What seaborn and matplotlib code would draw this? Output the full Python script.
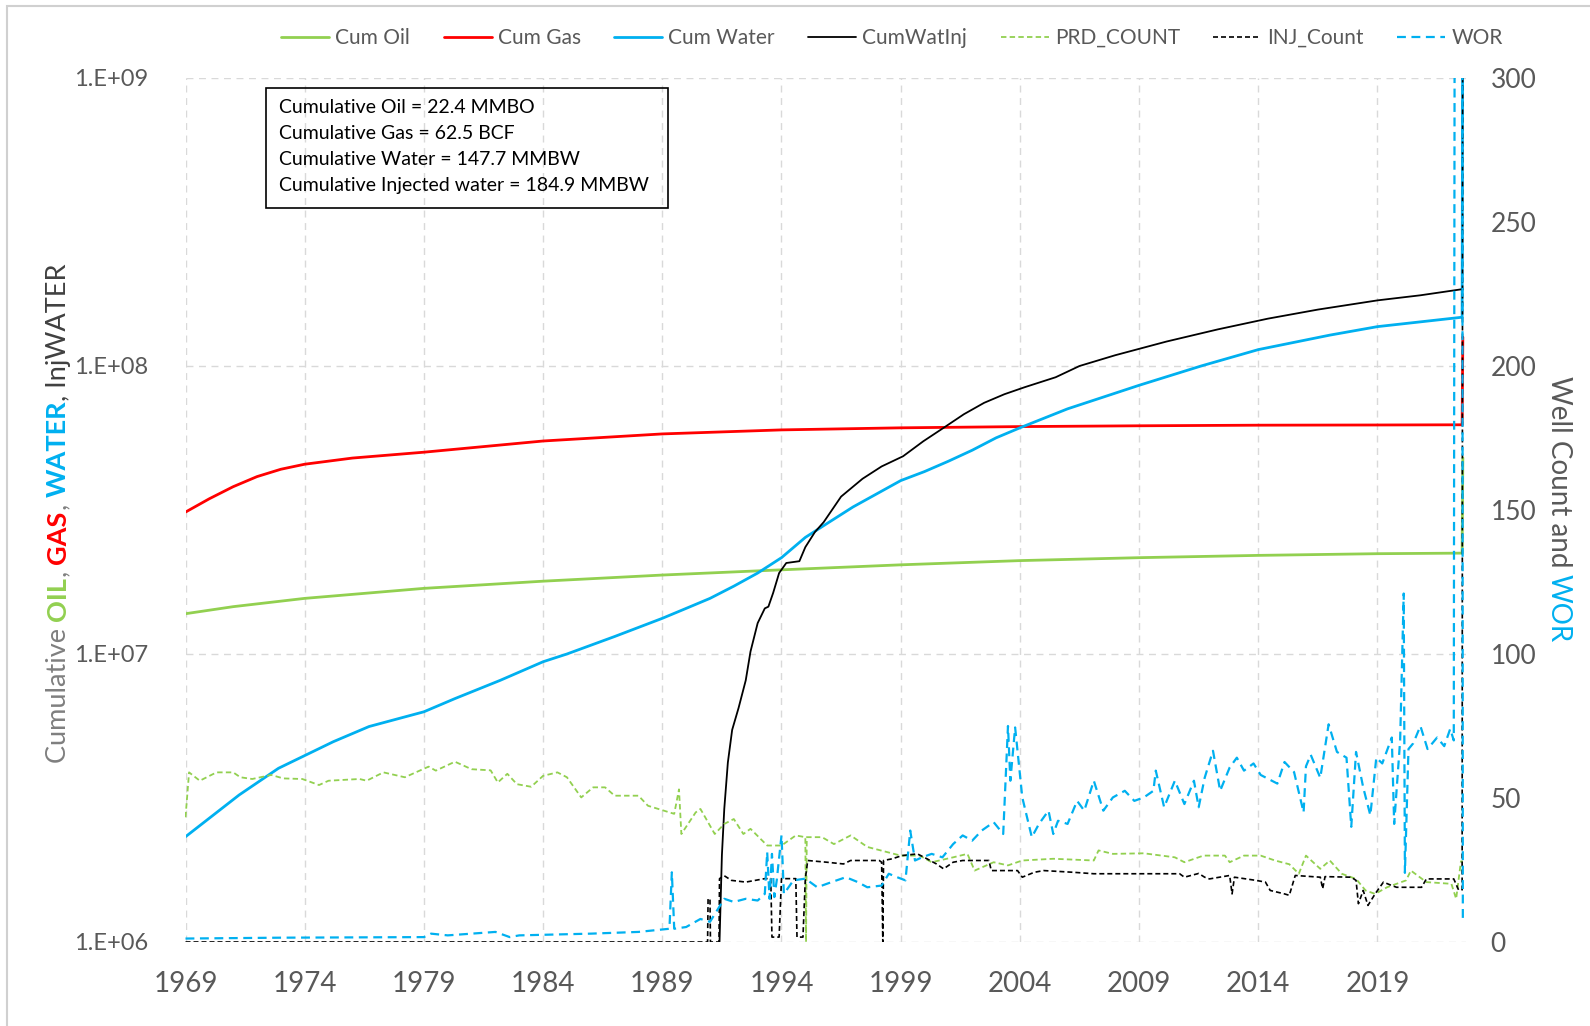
import matplotlib
matplotlib.use("Agg")
import matplotlib.pyplot as plt
from matplotlib.lines import Line2D
from matplotlib.patches import Rectangle
from matplotlib.ticker import FixedLocator, FuncFormatter, NullLocator
import numpy as np
import seaborn as sns

# ---- data ----
# cumulative volumes, left (log) axis
oil_years = [1969, 1971, 1974, 1979, 1984, 1989, 1994, 1999, 2004, 2009, 2014, 2019, 2022.55, 2022.58]
oil_vals = [13.8e6, 14.6e6, 15.6e6, 16.9e6, 17.9e6, 18.8e6, 19.6e6, 20.4e6, 21.1e6, 21.6e6,
            22.0e6, 22.3e6, 22.4e6, 48e6]

gas_years = [1969, 1970, 1971, 1972, 1973, 1974, 1976, 1979, 1984, 1989, 1994, 1999, 2004,
             2009, 2014, 2019, 2022.55, 2022.58]
gas_vals = [31.1e6, 34.6e6, 38.1e6, 41.3e6, 43.8e6, 45.6e6, 47.9e6, 50.2e6, 54.9e6, 58.1e6,
            60.0e6, 61.0e6, 61.6e6, 62.0e6, 62.3e6, 62.4e6, 62.5e6, 126e6]

water_years = [1969, 1971.25, 1972.9, 1975.2, 1976.7, 1979, 1980.3, 1982.2, 1984, 1985, 1987,
               1989, 1990, 1991, 1992, 1993, 1994, 1995, 1996, 1997, 1998, 1999, 2000, 2001,
               2002, 2003, 2004, 2006, 2009, 2011.6, 2014, 2017, 2019, 2022.55, 2022.58]
water_vals = [2.32e6, 3.24e6, 4.01e6, 4.96e6, 5.6e6, 6.3e6, 7.0e6, 8.1e6, 9.4e6, 10.0e6, 11.5e6,
              13.3e6, 14.4e6, 15.6e6, 17.2e6, 19.1e6, 21.6e6, 25.4e6, 28.7e6, 32.4e6, 36.0e6,
              40.0e6, 43.0e6, 46.7e6, 51.0e6, 56.3e6, 61.0e6, 71.0e6, 85.7e6, 100e6, 114e6,
              128e6, 137e6, 147.7e6, 3e9]

watinj_years = [1991.35, 1991.4, 1991.5, 1991.6, 1991.75, 1991.93, 1992.2, 1992.5, 1992.7,
                1993.0, 1993.3, 1993.45, 1993.65, 1993.9, 1994.2, 1994.75, 1995.0, 1995.4,
                1995.77, 1996.5, 1997.4, 1998.2, 1999.1, 1999.95, 2000.8, 2001.65, 2002.5,
                2003.35, 2004.2, 2005.5, 2006.5, 2008.0, 2010.15, 2012.3, 2014.4, 2016.5,
                2019.0, 2020.8, 2022.57]
watinj_vals = [1e3, 1.0e6, 2.0e6, 2.9e6, 4.2e6, 5.45e6, 6.5e6, 8.1e6, 10.2e6, 12.8e6, 14.4e6,
               14.6e6, 16.3e6, 19.1e6, 20.7e6, 21.0e6, 23.5e6, 26.5e6, 28.7e6, 35.2e6, 40.6e6,
               44.8e6, 48.6e6, 54.8e6, 61.0e6, 68.0e6, 74.5e6, 79.8e6, 84.4e6, 91.4e6, 100e6,
               109e6, 121.6e6, 134e6, 146e6, 157e6, 169e6, 176e6, 184.9e6]

# well counts and WOR, right axis
prd_years = [1969.0, 1969.15, 1969.6, 1970.3, 1971.0, 1971.3, 1971.8, 1972.6, 1973.1, 1973.9,
             1974.6, 1975.0, 1976.3, 1976.6, 1977.3, 1978.2, 1979.2, 1979.5, 1980.3, 1981.0,
             1981.8, 1982.1, 1982.5, 1982.9, 1983.5, 1984.0, 1984.6, 1985.0, 1985.6, 1986.1,
             1986.6, 1987.0, 1988.0, 1988.4, 1989.5, 1989.7, 1989.8, 1990.4, 1990.6, 1991.2,
             1991.6, 1992.0, 1992.4, 1992.7, 1993.4, 1994.0, 1994.6, 1995.0, 1995.03, 1995.06,
             1995.7, 1996.2, 1996.9, 1997.6, 1999.0, 1999.8, 2000.3, 2001.2, 2001.8, 2002.1,
             2002.9, 2003.5, 2004.1, 2005.4, 2007.1, 2007.3, 2007.9, 2009.2, 2010.5, 2010.9,
             2011.7, 2012.6, 2012.8, 2013.4, 2014.1, 2014.7, 2015.3, 2015.7, 2016.0, 2016.6,
             2017.0, 2017.5, 2018.1, 2018.5, 2018.9, 2019.4, 2020.2, 2020.4, 2021.05, 2022.1,
             2022.3, 2022.5, 2022.58]
prd_vals = [43.3, 58.9, 56.0, 58.9, 58.9, 57.2, 56.6, 58.0, 56.8, 56.6,
            54.5, 56.0, 56.6, 56.0, 58.9, 57.2, 60.9, 59.5, 62.6, 60.0,
            59.6, 55.4, 58.4, 54.8, 53.9, 57.7, 58.9, 57.2, 50.2, 53.7,
            53.7, 50.8, 50.8, 47.3, 44.5, 53.0, 37.5, 45.0, 46.2, 37.5,
            41.0, 42.7, 37.5, 39.3, 33.5, 33.5, 37.0, 36.4, 0.0, 36.4,
            36.4, 34.0, 37.0, 33.0, 30.0, 30.0, 27.7, 29.4, 30.6, 24.8,
            27.7, 26.6, 28.3, 28.9, 28.3, 31.8, 30.6, 30.8, 29.4, 27.7,
            30.0, 30.0, 27.7, 30.0, 30.0, 28.3, 27.0, 23.7, 30.0, 25.4,
            28.3, 23.7, 21.9, 17.9, 16.7, 19.0, 21.4, 24.8, 20.8, 20.2,
            15.0, 28.0, 28.0]

injc_years = [1969.0, 1990.9, 1990.92, 1991.0, 1991.02, 1991.38, 1991.4, 1991.6, 1991.9, 1992.5,
              1993.3, 1993.55, 1993.6, 1993.9, 1994.0, 1994.6, 1994.65, 1994.9, 1995.0, 1995.1,
              1995.9, 1996.6, 1996.9, 1998.1, 1998.2, 1998.25, 1998.28, 1998.65, 1999.05, 1999.7,
              2000.1, 2000.5, 2000.8, 2001.2, 2001.6, 2002.7, 2002.8, 2003.9, 2004.1, 2004.6,
              2005.0, 2006.25, 2007.1, 2010.7, 2010.9, 2011.5, 2011.75, 2011.95, 2012.8, 2012.9,
              2013.0, 2013.9, 2014.3, 2014.5, 2015.1, 2015.3, 2015.55, 2016.6, 2016.7, 2016.8,
              2017.9, 2018.1, 2018.2, 2018.4, 2018.6, 2018.9, 2019.25, 2019.6, 2019.8, 2020.85,
              2021.05, 2022.2, 2022.4, 2022.55, 2022.58]
injc_vals = [0.0, 0.0, 15.0, 15.0, 0.0, 0.0, 22.0, 23.0, 21.4, 20.8,
             22.0, 22.0, 1.7, 1.7, 22.0, 22.0, 1.7, 1.7, 22.0, 28.3,
             27.7, 27.1, 28.3, 28.3, 27.7, 0.0, 28.3, 28.9, 30.0, 30.6,
             28.9, 27.1, 25.4, 27.7, 28.3, 28.3, 24.8, 24.8, 22.5, 24.2,
             24.8, 24.2, 23.7, 23.7, 22.5, 23.8, 22.5, 21.9, 23.1, 16.7,
             22.5, 21.4, 20.8, 17.9, 16.7, 16.2, 23.1, 22.5, 18.5, 22.7,
             22.5, 21.4, 13.3, 17.9, 12.7, 16.7, 20.8, 19.6, 19.0, 19.0,
             21.9, 21.9, 18.1, 18.1, 420.0]

wor_years = [1969, 1973, 1979, 1979.3, 1980, 1982, 1982.6, 1983, 1986, 1988,
             1989.3, 1989.4, 1989.5, 1990, 1990.6, 1991, 1991.3, 1991.6, 1992, 1992.5,
             1993, 1993.3, 1993.4, 1993.5, 1993.6, 1993.7, 1993.8, 1994, 1994.1, 1994.5,
             1995, 1995.5, 1996.1, 1996.7, 1997.2, 1997.6, 1998.2, 1998.5, 1998.85, 1999.2,
             1999.4, 1999.6, 1999.9, 2000.3, 2000.75, 2001.2, 2001.6, 2002, 2002.4, 2002.9,
             2003.3, 2003.5, 2003.6, 2003.8, 2004.1, 2004.5, 2004.8, 2005.2, 2005.4, 2005.6,
             2006, 2006.4, 2006.7, 2007.1, 2007.5, 2007.9, 2008.4, 2008.8, 2009.2, 2009.6,
             2009.7, 2010.05, 2010.5, 2010.9, 2011.3, 2011.5, 2011.75, 2012.1, 2012.4, 2012.8,
             2013.1, 2013.4, 2013.8, 2014.1, 2014.8, 2015.1, 2015.5, 2015.9, 2016, 2016.2,
             2016.6, 2016.95, 2017.3, 2017.7, 2017.9, 2018.1, 2018.4, 2018.7, 2018.95, 2019.2,
             2019.6, 2019.7, 2019.95, 2020.1, 2020.15, 2020.3, 2020.5, 2020.8, 2021.1, 2021.5,
             2021.8, 2022.05, 2022.2, 2022.25, 2022.55, 2022.58]
wor_vals = [1.2, 1.5, 1.7, 2.9, 2.3, 3.5, 1.7, 2.3, 2.9, 3.5,
            4.6, 24.2, 4.6, 5.2, 8.0, 7.0, 11.0, 15.0, 13.9, 15.0,
            14.4, 16.7, 31.2, 15.0, 30.6, 15.6, 21.4, 37.0, 16.7, 21.4,
            22.0, 19.0, 20.8, 22.5, 20.8, 19.0, 19.6, 23.7, 22.5, 21.4,
            38.7, 28.3, 29.4, 30.6, 29.4, 34.0, 37.0, 35.2, 38.7, 41.6,
            37.5, 75.0, 56.0, 74.5, 50.2, 36.4, 41.0, 45.6, 37.5, 42.1,
            41.0, 49.0, 45.6, 56.0, 45.6, 50.2, 52.5, 49.0, 50.2, 52.5,
            59.5, 46.8, 56.0, 47.9, 56.0, 46.8, 57.0, 66.4, 52.5, 60.6,
            64.0, 59.5, 62.0, 58.0, 55.0, 62.5, 59.0, 45.0, 61.0, 65.0,
            57.0, 75.6, 66.0, 64.0, 40.0, 66.0, 53.7, 44.0, 64.0, 62.0,
            71.0, 41.0, 70.0, 121.0, 24.0, 67.0, 69.0, 75.0, 67.0, 71.0,
            68.0, 74.0, 70.0, 420.0, 420.0, 7.6]

x_ticks = [1969, 1974, 1979, 1984, 1989, 1994, 1999, 2004, 2009, 2014, 2019]
left_ticks = [1e6, 1e7, 1e8, 1e9]
right_ticks = [0, 50, 100, 150, 200, 250, 300]
summary_lines = ["Cumulative Oil = 22.4 MMBO", "Cumulative Gas = 62.5 BCF",
                 "Cumulative Water = 147.7 MMBW", "Cumulative Injected water = 184.9 MMBW"]

GREEN, RED, BLUE = "#92D050", "#FF0000", "#00B0F0"
GRAY = "#595959"

sns.set_style("white")
plt.rcParams["font.family"] = ["Lato", "DejaVu Sans"]

W, H = 1590, 1026
fig = plt.figure(figsize=(W / 100, H / 100), dpi=100)
ax = fig.add_axes([185.5 / W, 1 - 942 / H, (1465.7 - 185.5) / W, (942 - 78) / H])
ax.set_yscale("log")
ax2 = ax.twinx()

# primary axis: cumulative volumes
sns.lineplot(x=oil_years, y=oil_vals, ax=ax, color=GREEN, lw=2.0, estimator=None, sort=False)
sns.lineplot(x=gas_years, y=gas_vals, ax=ax, color=RED, lw=2.0, estimator=None, sort=False)
sns.lineplot(x=water_years, y=water_vals, ax=ax, color=BLUE, lw=2.0, estimator=None, sort=False)
sns.lineplot(x=watinj_years, y=watinj_vals, ax=ax, color="black", lw=1.3, estimator=None, sort=False)

# secondary axis: counts and WOR
sns.lineplot(x=prd_years, y=prd_vals, ax=ax2, color=GREEN, lw=1.3, ls=(0, (3, 1.8)),
             estimator=None, sort=False)
sns.lineplot(x=injc_years, y=injc_vals, ax=ax2, color="black", lw=1.2, ls=(0, (3, 1.8)),
             estimator=None, sort=False)
sns.lineplot(x=wor_years, y=wor_vals, ax=ax2, color=BLUE, lw=1.6, ls=(0, (4, 2.5)),
             estimator=None, sort=False)

ax.set_xlim(1969, 2022.7)
ax.set_ylim(1e6, 1e9)
ax2.set_ylim(0, 300)

ax.xaxis.set_major_locator(FixedLocator(x_ticks))
ax.yaxis.set_major_locator(FixedLocator(left_ticks))
ax.yaxis.set_minor_locator(NullLocator())
ax.yaxis.set_major_formatter(FuncFormatter(lambda v, p: "1.E+%02d" % round(np.log10(v))))
ax2.yaxis.set_major_locator(FixedLocator(right_ticks))

ax.grid(True, which="major", color="#d9d9d9", lw=1.0, ls=(0, (5, 4)))
ax2.grid(False)
for a in (ax, ax2):
    for s in a.spines.values():
        s.set_visible(False)
    a.set_xlabel("")
    a.set_ylabel("")
ax.tick_params(axis="x", length=0, pad=21, labelsize=20, labelcolor=GRAY)
ax.tick_params(axis="y", length=0, pad=27, labelsize=17, labelcolor=GRAY)
ax2.tick_params(axis="y", length=0, pad=18, labelsize=19, labelcolor=GRAY)

# legend across the top
handles = [
    Line2D([], [], color=GREEN, lw=2.0),
    Line2D([], [], color=RED, lw=2.0),
    Line2D([], [], color=BLUE, lw=2.0),
    Line2D([], [], color="black", lw=1.3),
    Line2D([], [], color=GREEN, lw=1.3, ls=(0, (3, 1.8))),
    Line2D([], [], color="black", lw=1.2, ls=(0, (3, 1.8))),
    Line2D([], [], color=BLUE, lw=1.6, ls=(0, (4, 2.5))),
]
labels = ["Cum Oil", "Cum Gas", "Cum Water", "CumWatInj", "PRD_COUNT", "INJ_Count", "WOR"]
fig.legend(handles, labels, loc="center", bbox_to_anchor=(892 / W, 1 - 38 / H), ncol=7,
           frameon=False, fontsize=15, handlelength=2.3, handletextpad=0.3,
           columnspacing=1.6, labelcolor=GRAY)

# summary box
fig.patches.append(Rectangle((266 / W, 1 - 208 / H), (668 - 266) / W, 120 / H,
                             transform=fig.transFigure, fill=False, ec="black", lw=1.2))
for i, line in enumerate(summary_lines):
    fig.text(279 / W, 1 - (107.5 + 26 * i) / H, line, ha="left", va="center",
             fontsize=14, color="black")

# thin outer border (top and left visible)
fig.patches.append(Rectangle((7 / W, -0.05), 1.2, 1.05 - 6 / H, transform=fig.transFigure,
                             fill=False, ec="#d0d0d0", lw=1.5))

# multi-coloured rotated axis titles
fig.canvas.draw()
renderer = fig.canvas.get_renderer()


def piece_width(s, **kw):
    t1 = fig.text(0, 0, s + "|", **kw)
    t2 = fig.text(0, 0, "|", **kw)
    w = t1.get_window_extent(renderer).width - t2.get_window_extent(renderer).width
    t1.remove()
    t2.remove()
    return w


def stacked_label(pieces, x_base, y_center, rotation, size):
    widths = [piece_width(s, fontsize=size, fontweight=wt) for s, c, wt in pieces]
    total = sum(widths)
    direction = 1 if rotation == 90 else -1
    y = y_center - direction * total / 2
    for (s, c, wt), w in zip(pieces, widths):
        fig.text(x_base / W, y / H, s, color=c, fontsize=size, fontweight=wt,
                 rotation=rotation, rotation_mode="anchor", ha="left", va="baseline")
        y += direction * w


left_pieces = [("Cumulative ", "#7f7f7f", "normal"), ("OIL", GREEN, "bold"),
               (", ", "#7f7f7f", "normal"), ("GAS", RED, "bold"),
               (", ", "#7f7f7f", "normal"), ("WATER", BLUE, "bold"),
               (", InjWATER", "#404040", "normal")]
stacked_label(left_pieces, 66, H - 513, 90, 19.5)

right_pieces = [("Well Count and ", GRAY, "normal"), ("WOR", BLUE, "normal")]
stacked_label(right_pieces, 1551, H - 509, -90, 20)

fig.savefig("out.png", dpi=100)
